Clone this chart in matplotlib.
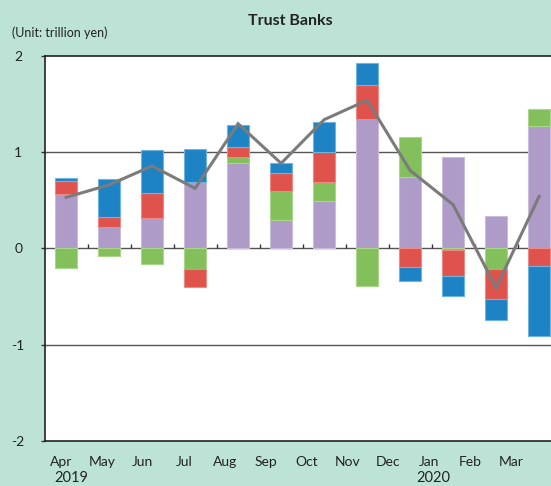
import matplotlib
matplotlib.use("Agg")
import matplotlib.pyplot as plt
import numpy as np

plt.rcParams['font.family'] = ['Lato', 'DejaVu Sans']

months = ["Apr", "May", "Jun", "Jul", "Aug", "Sep", "Oct", "Nov", "Dec", "Jan", "Feb", "Mar"]
years = ["2019", "2020"]
year_idx = [0, 9]

purple = [0.57, 0.22, 0.32, 0.69, 0.89, 0.295, 0.49, 1.345, 0.745, 0.95, 0.34, 1.27]
green = [-0.20, -0.08, -0.16, -0.21, 0.06, 0.30, 0.20, -0.39, 0.41, -0.02, -0.21, 0.18]
red = [0.13, 0.11, 0.26, -0.19, 0.10, 0.19, 0.315, 0.355, -0.19, -0.27, -0.32, -0.18]
blue = [0.035, 0.395, 0.44, 0.34, 0.23, 0.10, 0.31, 0.23, -0.15, -0.21, -0.22, -0.73]
net = [0.53, 0.66, 0.856, 0.624, 1.296, 0.884, 1.338, 1.54, 0.81, 0.454, -0.41, 0.54]

series = [
    (purple, "#ae9bc7", "#c9bddb"),
    (green, "#83c05b", "#a9d68b"),
    (red, "#e0524c", "#ec8a86"),
    (blue, "#1e83c5", "#6fb3e0"),
]

bg = "#bde3d7"
fig = plt.figure(figsize=(5.51, 4.86), dpi=100, facecolor=bg)
ax = fig.add_axes([44.6 / 551, 45.3 / 486, 516 / 551, 384.7 / 486])
ax.set_facecolor("white")

x = np.arange(len(months))
pos_base = np.zeros(len(months))
neg_base = np.zeros(len(months))
for vals, col, ecol in series:
    v = np.array(vals)
    bottoms = np.where(v >= 0, pos_base, neg_base)
    ax.bar(x, v, width=0.5, bottom=bottoms, color=col, edgecolor=ecol, linewidth=0.8, zorder=3)
    pos_base = pos_base + np.where(v >= 0, v, 0)
    neg_base = neg_base + np.where(v < 0, v, 0)

ax.plot(x, net, color="#7b7b7b", linewidth=2.2, zorder=4, solid_joinstyle="miter")

ax.set_xlim(-0.5, len(months) - 0.5)
ax.set_ylim(-2, 2)
ax.set_yticks([-2, -1, 0, 1, 2])
ax.set_yticklabels(["-2", "-1", "0", "1", "2"], fontsize=10, color="#222222", ha="center")
ax.tick_params(axis="y", length=3, width=1, pad=16, color="#333333")
for yv in [-1, 0, 1]:
    ax.axhline(yv, color="#555555", linewidth=1.0, zorder=2)
# category-boundary ticks on the zero line
ax.vlines(np.arange(len(months) - 1) + 0.5, 0, 0.045, color="#333333", linewidth=1.0, zorder=2)

# month labels sit slightly compressed to the left in the original
ax.set_xticks(x * 0.952 - 0.12)
ax.set_xticklabels(months, fontsize=10, color="#222222")
ax.tick_params(axis="x", length=0, pad=11)

year_offsets = [0.13, -0.47]
for xi, off, yl in zip(year_idx, year_offsets, years):
    ax.text(xi + off, -2.385, yl, fontsize=10.5, ha="center", va="center", color="#222222")

for s in ["left", "top", "bottom"]:
    ax.spines[s].set_color("#222222")
    ax.spines[s].set_linewidth(1.2)
ax.spines["right"].set_visible(False)

fig.text(290 / 551, 1 - 21 / 486, "Trust Banks", fontsize=11.5, fontweight="bold",
         ha="center", va="center", color="#222222")
fig.text(12 / 551, 1 - 33 / 486, "(Unit: trillion yen)", fontsize=9,
         ha="left", va="center", color="#222222")

fig.savefig("out.png", dpi=100, facecolor=bg)
